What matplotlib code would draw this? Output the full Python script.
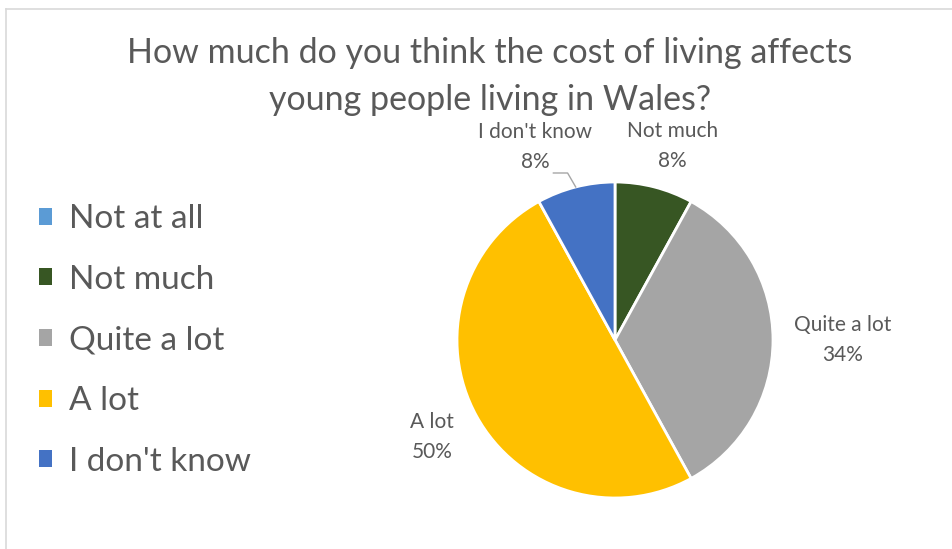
import numpy as np
import matplotlib.pyplot as plt
from matplotlib.patches import Patch
from matplotlib.lines import Line2D

plt.rcParams['font.family'] = ['Lato', 'DejaVu Sans']

categories = ['Not at all', 'Not much', 'Quite a lot', 'A lot', "I don't know"]
shares = [0, 8, 34, 50, 8]
colours = ['#5B9BD5', '#375623', '#A5A5A5', '#FFC000', '#4472C4']
label_radius = [1.3, 1.28, 1.44, 1.31, 1.32]
label_shift = [0, -2.2, 0, -0.9, 8.2]  # degrees, nudges a label off its slice middle

title_lines = ['How much do you think the cost of living affects',
               'young people living in Wales?']

W, H = 952, 549
fig = plt.figure(figsize=(W / 100, H / 100), dpi=100)

# thin frame round the chart area
fig.add_artist(Line2D([6 / W, 6 / W], [0, 1 - 9 / H],
                      transform=fig.transFigure, color='#d9d9d9', lw=1.2))
fig.add_artist(Line2D([6 / W, 1], [1 - 9 / H, 1 - 9 / H],
                      transform=fig.transFigure, color='#d9d9d9', lw=1.2))

for line, base in zip(title_lines, [63, 110]):
    fig.text(490 / W, 1 - base / H, line, ha='center', va='baseline',
             fontsize=24.5, color='#595959')

ax = fig.add_axes([457 / W, 51 / H, 316 / W, 316 / H])
wedges, _ = ax.pie(shares, colors=colours, startangle=90, counterclock=False,
                   radius=1, wedgeprops=dict(edgecolor='white', linewidth=2))
ax.set_xlim(-1, 1)
ax.set_ylim(-1, 1)
ax.set_aspect('equal')
ax.axis('off')

for w, name, val, r, shift in zip(wedges, categories, shares, label_radius, label_shift):
    if val == 0:
        continue
    mid = np.deg2rad((w.theta1 + w.theta2) / 2 + shift)
    x, y = r * np.cos(mid), r * np.sin(mid)
    for txt, dy in [(name, 10.8), (f'{val}%', -10.8)]:
        ax.annotate(txt, xy=(x, y), xytext=(0, dy), textcoords='offset points',
                    ha='center', va='center', fontsize=15, color='#595959',
                    annotation_clip=False)

# leader line for the small "I don't know" label
w = wedges[4]
mid = np.deg2rad((w.theta1 + w.theta2) / 2)
ax.plot([-0.39, -0.30, np.cos(mid)], [1.057, 1.057, np.sin(mid)],
        color='#a6a6a6', lw=1, clip_on=False)

handles = [Patch(facecolor=c, edgecolor='none') for c in colours]
fig.legend(handles, categories, loc='upper left',
           bbox_to_anchor=(39 / W, 1 - 204 / H), frameon=False,
           fontsize=24, labelcolor='#595959', handlelength=0.4,
           handleheight=0.4, handletextpad=0.5, labelspacing=0.92,
           borderpad=0, borderaxespad=0)

fig.savefig('out.png', dpi=100, facecolor='white')
